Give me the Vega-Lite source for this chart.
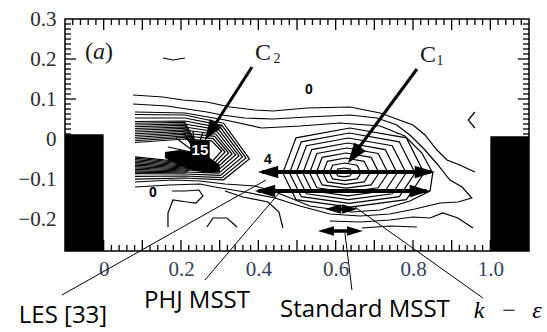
{
  "$schema": "https://vega.github.io/schema/vega-lite/v6.json",
  "width": 464,
  "height": 232,
  "autosize": {"type": "none"},
  "padding": {"left": 65, "top": 19, "right": 18, "bottom": 81},
  "background": "white",
  "config": {
    "view": {"stroke": "black", "strokeWidth": 1.5},
    "axis": {"title": null, "domain": false, "grid": false}
  },
  "resolve": {"axis": {"x": "independent", "y": "independent"}},
  "datasets": {
    "xt": [
      {"v":-0.08,"k":"minor"},{"v":-0.06,"k":"minor"},{"v":-0.04,"k":"minor"},{"v":-0.02,"k":"minor"},{"v":0.02,"k":"minor"},{"v":0.04,"k":"minor"},{"v":0.06,"k":"minor"},{"v":0.08,"k":"minor"},{"v":0.12,"k":"minor"},{"v":0.14,"k":"minor"},{"v":0.16,"k":"minor"},{"v":0.18,"k":"minor"},{"v":0.22,"k":"minor"},{"v":0.24,"k":"minor"},{"v":0.26,"k":"minor"},{"v":0.28,"k":"minor"},{"v":0.32,"k":"minor"},{"v":0.34,"k":"minor"},{"v":0.36,"k":"minor"},{"v":0.38,"k":"minor"},{"v":0.42,"k":"minor"},{"v":0.44,"k":"minor"},{"v":0.46,"k":"minor"},{"v":0.48,"k":"minor"},{"v":0.52,"k":"minor"},{"v":0.54,"k":"minor"},{"v":0.56,"k":"minor"},{"v":0.58,"k":"minor"},{"v":0.62,"k":"minor"},{"v":0.64,"k":"minor"},{"v":0.66,"k":"minor"},{"v":0.68,"k":"minor"},{"v":0.72,"k":"minor"},{"v":0.74,"k":"minor"},{"v":0.76,"k":"minor"},{"v":0.78,"k":"minor"},{"v":0.82,"k":"minor"},{"v":0.84,"k":"minor"},{"v":0.86,"k":"minor"},{"v":0.88,"k":"minor"},{"v":0.92,"k":"minor"},{"v":0.94,"k":"minor"},{"v":0.96,"k":"minor"},{"v":0.98,"k":"minor"},{"v":1.02,"k":"minor"},{"v":1.04,"k":"minor"},{"v":1.06,"k":"minor"},{"v":1.08,"k":"minor"},
      {"v":0,"k":"major"},{"v":0.1,"k":"major"},{"v":0.2,"k":"major"},{"v":0.3,"k":"major"},{"v":0.4,"k":"major"},{"v":0.5,"k":"major"},{"v":0.6,"k":"major"},{"v":0.7,"k":"major"},{"v":0.8,"k":"major"},{"v":0.9,"k":"major"},{"v":1.0,"k":"major"}
    ],
    "yt": [
      {"v":-0.275,"k":"minor"},{"v":-0.2625,"k":"minor"},{"v":-0.25,"k":"minor"},{"v":-0.2375,"k":"minor"},{"v":-0.225,"k":"minor"},{"v":-0.2125,"k":"minor"},{"v":-0.1875,"k":"minor"},{"v":-0.175,"k":"minor"},{"v":-0.1625,"k":"minor"},{"v":-0.15,"k":"minor"},{"v":-0.1375,"k":"minor"},{"v":-0.125,"k":"minor"},{"v":-0.1125,"k":"minor"},{"v":-0.0875,"k":"minor"},{"v":-0.075,"k":"minor"},{"v":-0.0625,"k":"minor"},{"v":-0.05,"k":"minor"},{"v":-0.0375,"k":"minor"},{"v":-0.025,"k":"minor"},{"v":-0.0125,"k":"minor"},{"v":0.0125,"k":"minor"},{"v":0.025,"k":"minor"},{"v":0.0375,"k":"minor"},{"v":0.05,"k":"minor"},{"v":0.0625,"k":"minor"},{"v":0.075,"k":"minor"},{"v":0.0875,"k":"minor"},{"v":0.1125,"k":"minor"},{"v":0.125,"k":"minor"},{"v":0.1375,"k":"minor"},{"v":0.15,"k":"minor"},{"v":0.1625,"k":"minor"},{"v":0.175,"k":"minor"},{"v":0.1875,"k":"minor"},{"v":0.2125,"k":"minor"},{"v":0.225,"k":"minor"},{"v":0.2375,"k":"minor"},{"v":0.25,"k":"minor"},{"v":0.2625,"k":"minor"},{"v":0.275,"k":"minor"},{"v":0.2875,"k":"minor"},
      {"v":-0.2,"k":"major"},{"v":-0.1,"k":"major"},{"v":0,"k":"major"},{"v":0.1,"k":"major"},{"v":0.2,"k":"major"}
    ],
    "blocks": [
      {"x": -0.1, "x2": 0, "y": 0.012, "y2": -0.28},
      {"x": 1.0, "x2": 1.1, "y": 0.007, "y2": -0.28}
    ],
    "core": [
      {"x": 0.1585, "y": -0.0325, "y2": -0.0475},
      {"x": 0.1973, "y": -0.0275, "y2": -0.0675},
      {"x": 0.2361, "y": -0.035, "y2": -0.08},
      {"x": 0.2749, "y": -0.0475, "y2": -0.085},
      {"x": 0.3007, "y": -0.065, "y2": -0.0825}
    ],
    "lines": [
      {"g":"A","o":1,"x":0.076,"y":0.11},{"g":"A","o":2,"x":0.153,"y":0.105},{"g":"A","o":3,"x":0.205,"y":0.0975},{"g":"A","o":4,"x":0.267,"y":0.0925},{"g":"A","o":5,"x":0.327,"y":0.08},{"g":"A","o":6,"x":0.391,"y":0.0725},{"g":"A","o":7,"x":0.438,"y":0.07},{"g":"A","o":8,"x":0.526,"y":0.0775},{"g":"A","o":9,"x":0.637,"y":0.08},{"g":"A","o":10,"x":0.715,"y":0.065},{"g":"A","o":11,"x":0.8,"y":0.035},{"g":"A","o":12,"x":0.831,"y":0.01},{"g":"A","o":13,"x":0.862,"y":-0.0275},{"g":"A","o":14,"x":0.888,"y":-0.0525},{"g":"A","o":15,"x":0.921,"y":-0.065},{"g":"A","o":16,"x":0.96,"y":-0.0825},
      {"g":"M2","o":1,"x":0.076,"y":0.0875},{"g":"M2","o":2,"x":0.164,"y":0.0825},{"g":"M2","o":3,"x":0.215,"y":0.075},{"g":"M2","o":4,"x":0.267,"y":0.0675},{"g":"M2","o":5,"x":0.306,"y":0.06},{"g":"M2","o":6,"x":0.365,"y":0.0525},{"g":"M2","o":7,"x":0.438,"y":0.05},{"g":"M2","o":8,"x":0.526,"y":0.055},{"g":"M2","o":9,"x":0.637,"y":0.06},{"g":"M2","o":10,"x":0.707,"y":0.0525},{"g":"M2","o":11,"x":0.758,"y":0.035},{"g":"M2","o":12,"x":0.792,"y":0.01},{"g":"M2","o":13,"x":0.831,"y":-0.0275},{"g":"M2","o":14,"x":0.8645,"y":-0.065},{"g":"M2","o":15,"x":0.8955,"y":-0.1025},{"g":"M2","o":16,"x":0.927,"y":-0.12},{"g":"M2","o":17,"x":0.952,"y":-0.1475},{"g":"M2","o":18,"x":0.916,"y":-0.1575},{"g":"M2","o":19,"x":0.87,"y":-0.16},{"g":"M2","o":20,"x":0.805,"y":-0.175},{"g":"M2","o":21,"x":0.74,"y":-0.1875},{"g":"M2","o":22,"x":0.663,"y":-0.1925},{"g":"M2","o":23,"x":0.585,"y":-0.1875},{"g":"M2","o":24,"x":0.508,"y":-0.1675},{"g":"M2","o":25,"x":0.443,"y":-0.1475},{"g":"M2","o":26,"x":0.365,"y":-0.1325},{"g":"M2","o":27,"x":0.288,"y":-0.12},{"g":"M2","o":28,"x":0.249,"y":-0.1125},{"g":"M2","o":29,"x":0.171,"y":-0.115},{"g":"M2","o":30,"x":0.081,"y":-0.12},
      {"g":"M1","o":1,"x":0.081,"y":0.0675},{"g":"M1","o":2,"x":0.21,"y":0.065},{"g":"M1","o":3,"x":0.314,"y":0.0475},{"g":"M1","o":4,"x":0.409,"y":0.0275},{"g":"M1","o":5,"x":0.508,"y":0.0325},{"g":"M1","o":6,"x":0.611,"y":0.04},{"g":"M1","o":7,"x":0.715,"y":0.0325},{"g":"M1","o":8,"x":0.779,"y":0.0075},{"g":"M1","o":9,"x":0.823,"y":-0.035},{"g":"M1","o":10,"x":0.851,"y":-0.085},{"g":"M1","o":11,"x":0.844,"y":-0.13},{"g":"M1","o":12,"x":0.792,"y":-0.155},{"g":"M1","o":13,"x":0.715,"y":-0.1775},{"g":"M1","o":14,"x":0.64,"y":-0.1825},{"g":"M1","o":15,"x":0.533,"y":-0.1675},{"g":"M1","o":16,"x":0.477,"y":-0.145},{"g":"M1","o":17,"x":0.43,"y":-0.1275},{"g":"M1","o":18,"x":0.391,"y":-0.1175},{"g":"M1","o":19,"x":0.314,"y":-0.1125},{"g":"M1","o":20,"x":0.249,"y":-0.105},{"g":"M1","o":21,"x":0.177,"y":-0.1025},{"g":"M1","o":22,"x":0.081,"y":-0.1075},
      {"g":"R1","o":1,"x":0.642,"y":-0.085},{"g":"R1","o":2,"x":0.637,"y":-0.0753},{"g":"R1","o":3,"x":0.621,"y":-0.0725},{"g":"R1","o":4,"x":0.6055,"y":-0.0753},{"g":"R1","o":5,"x":0.6017,"y":-0.085},{"g":"R1","o":6,"x":0.6055,"y":-0.0924},{"g":"R1","o":7,"x":0.621,"y":-0.0945},{"g":"R1","o":8,"x":0.637,"y":-0.0924},{"g":"R1","o":9,"x":0.642,"y":-0.085},
      {"g":"R2","o":1,"x":0.6656,"y":-0.085},{"g":"R2","o":2,"x":0.6554,"y":-0.0655},{"g":"R2","o":3,"x":0.623,"y":-0.06},{"g":"R2","o":4,"x":0.592,"y":-0.0655},{"g":"R2","o":5,"x":0.5844,"y":-0.085},{"g":"R2","o":6,"x":0.592,"y":-0.0998},{"g":"R2","o":7,"x":0.623,"y":-0.104},{"g":"R2","o":8,"x":0.6554,"y":-0.0998},{"g":"R2","o":9,"x":0.6656,"y":-0.085},
      {"g":"R3","o":1,"x":0.6889,"y":-0.085},{"g":"R3","o":2,"x":0.6736,"y":-0.0558},{"g":"R3","o":3,"x":0.625,"y":-0.0475},{"g":"R3","o":4,"x":0.5785,"y":-0.0558},{"g":"R3","o":5,"x":0.5671,"y":-0.085},{"g":"R3","o":6,"x":0.5785,"y":-0.1072},{"g":"R3","o":7,"x":0.625,"y":-0.1135},{"g":"R3","o":8,"x":0.6736,"y":-0.1072},{"g":"R3","o":9,"x":0.6889,"y":-0.085},
      {"g":"R4","o":1,"x":0.7122,"y":-0.085},{"g":"R4","o":2,"x":0.6918,"y":-0.046},{"g":"R4","o":3,"x":0.627,"y":-0.035},{"g":"R4","o":4,"x":0.565,"y":-0.046},{"g":"R4","o":5,"x":0.5498,"y":-0.085},{"g":"R4","o":6,"x":0.565,"y":-0.1146},{"g":"R4","o":7,"x":0.627,"y":-0.123},{"g":"R4","o":8,"x":0.6918,"y":-0.1146},{"g":"R4","o":9,"x":0.7122,"y":-0.085},
      {"g":"R5","o":1,"x":0.7355,"y":-0.085},{"g":"R5","o":2,"x":0.71,"y":-0.0363},{"g":"R5","o":3,"x":0.629,"y":-0.0225},{"g":"R5","o":4,"x":0.5515,"y":-0.0363},{"g":"R5","o":5,"x":0.5325,"y":-0.085},{"g":"R5","o":6,"x":0.5515,"y":-0.122},{"g":"R5","o":7,"x":0.629,"y":-0.1325},{"g":"R5","o":8,"x":0.71,"y":-0.122},{"g":"R5","o":9,"x":0.7355,"y":-0.085},
      {"g":"R6","o":1,"x":0.7588,"y":-0.085},{"g":"R6","o":2,"x":0.7282,"y":-0.0265},{"g":"R6","o":3,"x":0.631,"y":-0.01},{"g":"R6","o":4,"x":0.538,"y":-0.0265},{"g":"R6","o":5,"x":0.5152,"y":-0.085},{"g":"R6","o":6,"x":0.538,"y":-0.1294},{"g":"R6","o":7,"x":0.631,"y":-0.142},{"g":"R6","o":8,"x":0.7282,"y":-0.1294},{"g":"R6","o":9,"x":0.7588,"y":-0.085},
      {"g":"R7","o":1,"x":0.7821,"y":-0.085},{"g":"R7","o":2,"x":0.7464,"y":-0.0168},{"g":"R7","o":3,"x":0.633,"y":0.0025},{"g":"R7","o":4,"x":0.5245,"y":-0.0168},{"g":"R7","o":5,"x":0.4979,"y":-0.085},{"g":"R7","o":6,"x":0.5245,"y":-0.1368},{"g":"R7","o":7,"x":0.633,"y":-0.1515},{"g":"R7","o":8,"x":0.7464,"y":-0.1368},{"g":"R7","o":9,"x":0.7821,"y":-0.085},
      {"g":"R8","o":1,"x":0.8054,"y":-0.085},{"g":"R8","o":2,"x":0.7646,"y":-0.007},{"g":"R8","o":3,"x":0.635,"y":0.015},{"g":"R8","o":4,"x":0.511,"y":-0.007},{"g":"R8","o":5,"x":0.4806,"y":-0.085},{"g":"R8","o":6,"x":0.511,"y":-0.1442},{"g":"R8","o":7,"x":0.635,"y":-0.161},{"g":"R8","o":8,"x":0.7646,"y":-0.1442},{"g":"R8","o":9,"x":0.8054,"y":-0.085},
      {"g":"R9","o":1,"x":0.8287,"y":-0.085},{"g":"R9","o":2,"x":0.7828,"y":0.0028},{"g":"R9","o":3,"x":0.637,"y":0.0275},{"g":"R9","o":4,"x":0.4975,"y":0.0028},{"g":"R9","o":5,"x":0.4633,"y":-0.085},{"g":"R9","o":6,"x":0.4975,"y":-0.1516},{"g":"R9","o":7,"x":0.637,"y":-0.1705},{"g":"R9","o":8,"x":0.7828,"y":-0.1516},{"g":"R9","o":9,"x":0.8287,"y":-0.085},
      {"g":"K1","o":1,"x":0.081,"y":-0.0088},{"g":"K1","o":2,"x":0.21,"y":0.0},{"g":"K1","o":3,"x":0.279,"y":-0.0045},{"g":"K1","o":4,"x":0.305,"y":-0.03},{"g":"K1","o":5,"x":0.279,"y":-0.058},{"g":"K1","o":6,"x":0.21,"y":-0.0575},{"g":"K1","o":7,"x":0.081,"y":-0.0445},
      {"g":"K2","o":1,"x":0.081,"y":0.0},{"g":"K2","o":2,"x":0.21,"y":0.0075},{"g":"K2","o":3,"x":0.283,"y":0.001},{"g":"K2","o":4,"x":0.314,"y":-0.0325},{"g":"K2","o":5,"x":0.283,"y":-0.0635},{"g":"K2","o":6,"x":0.21,"y":-0.0625},{"g":"K2","o":7,"x":0.081,"y":-0.0515},
      {"g":"K3","o":1,"x":0.081,"y":0.0088},{"g":"K3","o":2,"x":0.21,"y":0.015},{"g":"K3","o":3,"x":0.287,"y":0.0065},{"g":"K3","o":4,"x":0.323,"y":-0.035},{"g":"K3","o":5,"x":0.287,"y":-0.069},{"g":"K3","o":6,"x":0.21,"y":-0.0675},{"g":"K3","o":7,"x":0.081,"y":-0.0585},
      {"g":"K4","o":1,"x":0.081,"y":0.0175},{"g":"K4","o":2,"x":0.21,"y":0.0225},{"g":"K4","o":3,"x":0.29,"y":0.012},{"g":"K4","o":4,"x":0.332,"y":-0.0375},{"g":"K4","o":5,"x":0.29,"y":-0.0745},{"g":"K4","o":6,"x":0.21,"y":-0.0725},{"g":"K4","o":7,"x":0.081,"y":-0.0655},
      {"g":"K5","o":1,"x":0.081,"y":0.0263},{"g":"K5","o":2,"x":0.21,"y":0.03},{"g":"K5","o":3,"x":0.294,"y":0.0175},{"g":"K5","o":4,"x":0.341,"y":-0.04},{"g":"K5","o":5,"x":0.294,"y":-0.08},{"g":"K5","o":6,"x":0.21,"y":-0.0775},{"g":"K5","o":7,"x":0.081,"y":-0.0725},
      {"g":"K6","o":1,"x":0.081,"y":0.035},{"g":"K6","o":2,"x":0.21,"y":0.0375},{"g":"K6","o":3,"x":0.298,"y":0.023},{"g":"K6","o":4,"x":0.35,"y":-0.0425},{"g":"K6","o":5,"x":0.298,"y":-0.0855},{"g":"K6","o":6,"x":0.21,"y":-0.0825},{"g":"K6","o":7,"x":0.081,"y":-0.0795},
      {"g":"K7","o":1,"x":0.081,"y":0.0438},{"g":"K7","o":2,"x":0.21,"y":0.045},{"g":"K7","o":3,"x":0.302,"y":0.0285},{"g":"K7","o":4,"x":0.359,"y":-0.045},{"g":"K7","o":5,"x":0.302,"y":-0.091},{"g":"K7","o":6,"x":0.21,"y":-0.0875},{"g":"K7","o":7,"x":0.081,"y":-0.0865},
      {"g":"K8","o":1,"x":0.081,"y":0.0525},{"g":"K8","o":2,"x":0.21,"y":0.0525},{"g":"K8","o":3,"x":0.306,"y":0.034},{"g":"K8","o":4,"x":0.368,"y":-0.0475},{"g":"K8","o":5,"x":0.306,"y":-0.0965},{"g":"K8","o":6,"x":0.21,"y":-0.0925},{"g":"K8","o":7,"x":0.081,"y":-0.0935},
      {"g":"K9","o":1,"x":0.081,"y":0.0613},{"g":"K9","o":2,"x":0.21,"y":0.06},{"g":"K9","o":3,"x":0.31,"y":0.0395},{"g":"K9","o":4,"x":0.377,"y":-0.05},{"g":"K9","o":5,"x":0.31,"y":-0.102},{"g":"K9","o":6,"x":0.21,"y":-0.0975},{"g":"K9","o":7,"x":0.081,"y":-0.1005},
      {"g":"U1","o":1,"x":0.081,"y":-0.0044},{"g":"U1","o":2,"x":0.21,"y":0.0038},{"g":"U1","o":3,"x":0.25,"y":-0.03},
      {"g":"U2","o":1,"x":0.081,"y":0.0044},{"g":"U2","o":2,"x":0.21,"y":0.0113},{"g":"U2","o":3,"x":0.25,"y":-0.03},
      {"g":"U3","o":1,"x":0.081,"y":0.0131},{"g":"U3","o":2,"x":0.21,"y":0.0188},{"g":"U3","o":3,"x":0.25,"y":-0.03},
      {"g":"U4","o":1,"x":0.081,"y":0.0219},{"g":"U4","o":2,"x":0.21,"y":0.0263},{"g":"U4","o":3,"x":0.25,"y":-0.03},
      {"g":"U5","o":1,"x":0.081,"y":0.0306},{"g":"U5","o":2,"x":0.21,"y":0.0338},{"g":"U5","o":3,"x":0.25,"y":-0.03},
      {"g":"U6","o":1,"x":0.081,"y":0.0394},{"g":"U6","o":2,"x":0.21,"y":0.0413},{"g":"U6","o":3,"x":0.25,"y":-0.03},
      {"g":"L1","o":1,"x":0.081,"y":-0.048},{"g":"L1","o":2,"x":0.21,"y":-0.06},{"g":"L1","o":3,"x":0.26,"y":-0.05},
      {"g":"L2","o":1,"x":0.081,"y":-0.055},{"g":"L2","o":2,"x":0.21,"y":-0.065},{"g":"L2","o":3,"x":0.26,"y":-0.05},
      {"g":"L3","o":1,"x":0.081,"y":-0.062},{"g":"L3","o":2,"x":0.21,"y":-0.07},{"g":"L3","o":3,"x":0.26,"y":-0.05},
      {"g":"L4","o":1,"x":0.081,"y":-0.069},{"g":"L4","o":2,"x":0.21,"y":-0.075},{"g":"L4","o":3,"x":0.26,"y":-0.05},
      {"g":"L5","o":1,"x":0.081,"y":-0.076},{"g":"L5","o":2,"x":0.21,"y":-0.08},{"g":"L5","o":3,"x":0.26,"y":-0.05},
      {"g":"L6","o":1,"x":0.081,"y":-0.083},{"g":"L6","o":2,"x":0.21,"y":-0.085},{"g":"L6","o":3,"x":0.26,"y":-0.05},
      {"g":"F1","o":1,"x":0.2387,"y":-0.035},{"g":"F1","o":2,"x":0.187,"y":0.0025},
      {"g":"F2","o":1,"x":0.2387,"y":-0.035},{"g":"F2","o":2,"x":0.2077,"y":0.015},
      {"g":"F3","o":1,"x":0.2387,"y":-0.035},{"g":"F3","o":2,"x":0.2309,"y":0.02},
      {"g":"F4","o":1,"x":0.2387,"y":-0.035},{"g":"F4","o":2,"x":0.2568,"y":0.0175},
      {"g":"F5","o":1,"x":0.2387,"y":-0.035},{"g":"F5","o":2,"x":0.1663,"y":-0.02},
      {"g":"F6","o":1,"x":0.2387,"y":-0.035},{"g":"F6","o":2,"x":0.1714,"y":-0.0525},
      {"g":"Z","o":1,"x":0.1766,"y":-0.13},{"g":"Z","o":2,"x":0.2102,"y":-0.13},{"g":"Z","o":3,"x":0.2464,"y":-0.1275},{"g":"Z","o":4,"x":0.2568,"y":-0.1425},{"g":"Z","o":5,"x":0.2387,"y":-0.16},{"g":"Z","o":6,"x":0.2154,"y":-0.1575},{"g":"Z","o":7,"x":0.1792,"y":-0.1525},{"g":"Z","o":8,"x":0.1663,"y":-0.185},{"g":"Z","o":9,"x":0.1663,"y":-0.22},
      {"g":"D","o":1,"x":0.3137,"y":-0.13},{"g":"D","o":2,"x":0.3602,"y":-0.145},{"g":"D","o":3,"x":0.4249,"y":-0.1575},{"g":"D","o":4,"x":0.4533,"y":-0.1825},{"g":"D","o":5,"x":0.4637,"y":-0.2225},
      {"g":"FB","o":1,"x":0.585,"y":-0.205},{"g":"FB","o":2,"x":0.663,"y":-0.2075},{"g":"FB","o":3,"x":0.74,"y":-0.2025},{"g":"FB","o":4,"x":0.8,"y":-0.195},{"g":"FB","o":5,"x":0.844,"y":-0.1975},{"g":"FB","o":6,"x":0.877,"y":-0.185},{"g":"FB","o":7,"x":0.916,"y":-0.1975},{"g":"FB","o":8,"x":0.955,"y":-0.2225},
      {"g":"G","o":1,"x":0.668,"y":-0.2225},{"g":"G","o":2,"x":0.74,"y":-0.2175},{"g":"G","o":3,"x":0.81,"y":-0.22},
      {"g":"arc","o":1,"x":0.1533,"y":0.2025},{"g":"arc","o":2,"x":0.179,"y":0.1975},{"g":"arc","o":3,"x":0.2102,"y":0.2025},
      {"g":"chev","o":1,"x":0.9602,"y":0.0675},{"g":"chev","o":2,"x":0.9429,"y":0.0475},{"g":"chev","o":3,"x":0.9602,"y":0.0275},
      {"g":"hat","o":1,"x":0.2671,"y":-0.22},{"g":"hat","o":2,"x":0.2827,"y":-0.1975},{"g":"hat","o":3,"x":0.3189,"y":-0.1975},{"g":"hat","o":4,"x":0.3447,"y":-0.22}
    ],
    "shafts": [
      {"x": 0.41, "x2": 0.845, "y": -0.0825, "y2": -0.0825, "kind": "big"},
      {"x": 0.40, "x2": 0.835, "y": -0.13, "y2": -0.13, "kind": "big"},
      {"x": 0.59, "x2": 0.64, "y": -0.175, "y2": -0.175, "kind": "small"},
      {"x": 0.575, "x2": 0.65, "y": -0.23, "y2": -0.23, "kind": "small"},
      {"x": 0.3835, "x2": 0.2788, "y": 0.18, "y2": 0.0225, "kind": "diag"},
      {"x": 0.8102, "x2": 0.6498, "y": 0.175, "y2": -0.035, "kind": "diag"}
    ],
    "heads": [
      {"x": 0.4249, "y": -0.0825, "dir": "L", "kind": "big"},
      {"x": 0.8309, "y": -0.0825, "dir": "R", "kind": "big"},
      {"x": 0.4171, "y": -0.13, "dir": "L", "kind": "big"},
      {"x": 0.818, "y": -0.13, "dir": "R", "kind": "big"},
      {"x": 0.5929, "y": -0.175, "dir": "L", "kind": "small"},
      {"x": 0.6369, "y": -0.175, "dir": "R", "kind": "small"},
      {"x": 0.5749, "y": -0.23, "dir": "L", "kind": "small"},
      {"x": 0.6498, "y": -0.23, "dir": "R", "kind": "small"}
    ],
    "diagheads": [
      {"name": "C2", "x": 0.2759, "y": 0.0185},
      {"name": "C1", "x": 0.6473, "y": -0.04}
    ],
    "leaders": [
      {"x": -0.1078, "y": -0.39, "x2": 0.4197, "y2": -0.1025},
      {"x": 0.262, "y": -0.3525, "x2": 0.456, "y2": -0.1325},
      {"x": 0.6421, "y": -0.3775, "x2": 0.624, "y2": -0.235},
      {"x": 0.9809, "y": -0.3975, "x2": 0.6498, "y2": -0.17}
    ],
    "sansLabels": [
      {"t": "LES [33]", "x": -0.1052, "y": -0.46},
      {"t": "PHJ MSST", "x": 0.2413, "y": -0.4225},
      {"t": "Standard MSST", "x": 0.6757, "y": -0.445}
    ],
    "mathItalic": [
      {"t": "k", "x": 0.9707, "y": -0.4475},
      {"t": "ε", "x": 1.1207, "y": -0.4475}
    ],
    "mathUpright": [
      {"t": "−", "x": 1.0483, "y": -0.4475}
    ],
    "serifBig": [
      {"t": "C", "x": 0.412, "y": 0.215},
      {"t": "C", "x": 0.8387, "y": 0.2088},
      {"t": "(", "x": -0.0379, "y": 0.2175},
      {"t": ")", "x": 0.0138, "y": 0.2175}
    ],
    "serifItalic": [
      {"t": "a", "x": -0.0121, "y": 0.2175}
    ],
    "serifSub": [
      {"t": "2", "x": 0.4482, "y": 0.2},
      {"t": "1", "x": 0.8697, "y": 0.1938}
    ],
    "boldNums": [
      {"t": "0", "x": 0.531, "y": 0.1225},
      {"t": "0", "x": 0.1275, "y": -0.135},
      {"t": "4", "x": 0.4249, "y": -0.0525}
    ],
    "whiteNums": [
      {"t": "15", "x": 0.249, "y": -0.0275}
    ]
  },
  "layer": [
    {
      "data": {"name": "blocks"},
      "mark": {"type": "rect", "color": "black"},
      "encoding": {
        "x": {"field": "x", "type": "quantitative", "scale": {"domain": [-0.1, 1.1], "nice": false, "zero": false},
              "axis": {"orient": "bottom", "values": [0, 0.2, 0.4, 0.6, 0.8, 1], "labelExpr": "datum.value == 0 ? '0' : format(datum.value, '.1f')", "ticks": false, "labelFont": "Liberation Serif", "labelFontSize": 21, "labelColor": "#34405c", "labelPadding": 7}},
        "x2": {"field": "x2"},
        "y": {"field": "y", "type": "quantitative", "scale": {"domain": [-0.28, 0.3], "nice": false, "zero": false},
              "axis": {"orient": "left", "values": [0.3, 0.2, 0.1, 0, -0.1, -0.2], "labelExpr": "datum.value == 0 ? '0' : format(datum.value, '.1f')", "ticks": false, "labelFont": "Liberation Serif", "labelFontSize": 21, "labelColor": "#2a2a2a", "labelPadding": 9}},
        "y2": {"field": "y2"}
      }
    },
    {
      "data": {"name": "lines"},
      "mark": {"type": "line", "color": "black", "strokeWidth": 1.2},
      "encoding": {
        "x": {"field": "x", "type": "quantitative", "scale": {"domain": [-0.1, 1.1], "nice": false, "zero": false}, "axis": null},
        "y": {"field": "y", "type": "quantitative", "scale": {"domain": [-0.28, 0.3], "nice": false, "zero": false}, "axis": null},
        "detail": {"field": "g", "type": "nominal"},
        "order": {"field": "o", "type": "quantitative"}
      }
    },
    {
      "data": {"name": "core"},
      "mark": {"type": "area", "color": "black", "opacity": 1},
      "encoding": {
        "x": {"field": "x", "type": "quantitative", "scale": {"domain": [-0.1, 1.1], "nice": false, "zero": false}, "axis": null},
        "y": {"field": "y", "type": "quantitative", "scale": {"domain": [-0.28, 0.3], "nice": false, "zero": false}, "axis": null},
        "y2": {"field": "y2"}
      }
    },
    {
      "data": {"name": "shafts"},
      "mark": {"type": "rule", "color": "black"},
      "encoding": {
        "x": {"field": "x", "type": "quantitative", "scale": {"domain": [-0.1, 1.1], "nice": false, "zero": false}, "axis": null},
        "x2": {"field": "x2"},
        "y": {"field": "y", "type": "quantitative", "scale": {"domain": [-0.28, 0.3], "nice": false, "zero": false}, "axis": null},
        "y2": {"field": "y2"},
        "strokeWidth": {"field": "kind", "type": "nominal", "scale": {"domain": ["big", "small", "diag"], "range": [4, 3, 2.5]}, "legend": null}
      }
    },
    {
      "data": {"name": "heads"},
      "mark": {"type": "point", "filled": true, "color": "black", "opacity": 1, "strokeWidth": 0},
      "encoding": {
        "x": {"field": "x", "type": "quantitative", "scale": {"domain": [-0.1, 1.1], "nice": false, "zero": false}, "axis": null},
        "y": {"field": "y", "type": "quantitative", "scale": {"domain": [-0.28, 0.3], "nice": false, "zero": false}, "axis": null},
        "shape": {"field": "dir", "type": "nominal", "scale": {"domain": ["L", "R"], "range": ["M-1,0L1,-0.6L1,0.6Z", "M1,0L-1,-0.6L-1,0.6Z"]}, "legend": null},
        "size": {"field": "kind", "type": "nominal", "scale": {"domain": ["big", "small"], "range": [420, 256]}, "legend": null}
      }
    },
    {
      "data": {"name": "diagheads"},
      "transform": [{"filter": "datum.name == 'C2'"}],
      "mark": {"type": "point", "filled": true, "color": "black", "opacity": 1, "strokeWidth": 0, "shape": "M0,-1L0.7,1L-0.7,1Z", "size": 420, "angle": 213},
      "encoding": {
        "x": {"field": "x", "type": "quantitative", "scale": {"domain": [-0.1, 1.1], "nice": false, "zero": false}, "axis": null},
        "y": {"field": "y", "type": "quantitative", "scale": {"domain": [-0.28, 0.3], "nice": false, "zero": false}, "axis": null}
      }
    },
    {
      "data": {"name": "diagheads"},
      "transform": [{"filter": "datum.name == 'C1'"}],
      "mark": {"type": "point", "filled": true, "color": "black", "opacity": 1, "strokeWidth": 0, "shape": "M0,-1L0.7,1L-0.7,1Z", "size": 420, "angle": 216},
      "encoding": {
        "x": {"field": "x", "type": "quantitative", "scale": {"domain": [-0.1, 1.1], "nice": false, "zero": false}, "axis": null},
        "y": {"field": "y", "type": "quantitative", "scale": {"domain": [-0.28, 0.3], "nice": false, "zero": false}, "axis": null}
      }
    },
    {
      "data": {"name": "leaders"},
      "mark": {"type": "rule", "color": "black", "strokeWidth": 1},
      "encoding": {
        "x": {"field": "x", "type": "quantitative", "scale": {"domain": [-0.1, 1.1], "nice": false, "zero": false}, "axis": null},
        "x2": {"field": "x2"},
        "y": {"field": "y", "type": "quantitative", "scale": {"domain": [-0.28, 0.3], "nice": false, "zero": false}, "axis": null},
        "y2": {"field": "y2"}
      }
    },
    {
      "data": {"name": "whiteNums"},
      "mark": {"type": "point", "shape": "square", "filled": true, "color": "black", "opacity": 1, "size": 380},
      "encoding": {
        "x": {"field": "x", "type": "quantitative", "scale": {"domain": [-0.1, 1.1], "nice": false, "zero": false}, "axis": null},
        "y": {"field": "y", "type": "quantitative", "scale": {"domain": [-0.28, 0.3], "nice": false, "zero": false}, "axis": null}
      }
    },
    {
      "data": {"name": "whiteNums"},
      "mark": {"type": "text", "font": "Liberation Sans", "fontWeight": "bold", "fontSize": 15, "color": "white", "align": "center", "baseline": "middle"},
      "encoding": {
        "x": {"field": "x", "type": "quantitative", "scale": {"domain": [-0.1, 1.1], "nice": false, "zero": false}, "axis": null},
        "y": {"field": "y", "type": "quantitative", "scale": {"domain": [-0.28, 0.3], "nice": false, "zero": false}, "axis": null},
        "text": {"field": "t"}
      }
    },
    {
      "data": {"name": "sansLabels"},
      "mark": {"type": "text", "font": "Open Sans", "fontSize": 24, "color": "black", "align": "center", "baseline": "alphabetic"},
      "encoding": {
        "x": {"field": "x", "type": "quantitative", "scale": {"domain": [-0.1, 1.1], "nice": false, "zero": false}, "axis": null},
        "y": {"field": "y", "type": "quantitative", "scale": {"domain": [-0.28, 0.3], "nice": false, "zero": false}, "axis": null},
        "text": {"field": "t"}
      }
    },
    {
      "data": {"name": "mathItalic"},
      "mark": {"type": "text", "font": "Liberation Serif", "fontStyle": "italic", "fontSize": 24, "color": "black", "align": "center", "baseline": "alphabetic"},
      "encoding": {
        "x": {"field": "x", "type": "quantitative", "scale": {"domain": [-0.1, 1.1], "nice": false, "zero": false}, "axis": null},
        "y": {"field": "y", "type": "quantitative", "scale": {"domain": [-0.28, 0.3], "nice": false, "zero": false}, "axis": null},
        "text": {"field": "t"}
      }
    },
    {
      "data": {"name": "mathUpright"},
      "mark": {"type": "text", "font": "Liberation Serif", "fontSize": 24, "color": "black", "align": "center", "baseline": "alphabetic"},
      "encoding": {
        "x": {"field": "x", "type": "quantitative", "scale": {"domain": [-0.1, 1.1], "nice": false, "zero": false}, "axis": null},
        "y": {"field": "y", "type": "quantitative", "scale": {"domain": [-0.28, 0.3], "nice": false, "zero": false}, "axis": null},
        "text": {"field": "t"}
      }
    },
    {
      "data": {"name": "serifBig"},
      "mark": {"type": "text", "font": "Liberation Serif", "fontSize": 24, "color": "#1a1a1a", "align": "center", "baseline": "middle"},
      "encoding": {
        "x": {"field": "x", "type": "quantitative", "scale": {"domain": [-0.1, 1.1], "nice": false, "zero": false}, "axis": null},
        "y": {"field": "y", "type": "quantitative", "scale": {"domain": [-0.28, 0.3], "nice": false, "zero": false}, "axis": null},
        "text": {"field": "t"}
      }
    },
    {
      "data": {"name": "serifItalic"},
      "mark": {"type": "text", "font": "Liberation Serif", "fontStyle": "italic", "fontSize": 24, "color": "#1a1a1a", "align": "center", "baseline": "middle"},
      "encoding": {
        "x": {"field": "x", "type": "quantitative", "scale": {"domain": [-0.1, 1.1], "nice": false, "zero": false}, "axis": null},
        "y": {"field": "y", "type": "quantitative", "scale": {"domain": [-0.28, 0.3], "nice": false, "zero": false}, "axis": null},
        "text": {"field": "t"}
      }
    },
    {
      "data": {"name": "serifSub"},
      "mark": {"type": "text", "font": "Liberation Serif", "fontSize": 14, "color": "#1a1a1a", "align": "center", "baseline": "middle"},
      "encoding": {
        "x": {"field": "x", "type": "quantitative", "scale": {"domain": [-0.1, 1.1], "nice": false, "zero": false}, "axis": null},
        "y": {"field": "y", "type": "quantitative", "scale": {"domain": [-0.28, 0.3], "nice": false, "zero": false}, "axis": null},
        "text": {"field": "t"}
      }
    },
    {
      "data": {"name": "boldNums"},
      "mark": {"type": "text", "font": "Liberation Sans", "fontWeight": "bold", "fontSize": 14, "color": "black", "align": "center", "baseline": "middle"},
      "encoding": {
        "x": {"field": "x", "type": "quantitative", "scale": {"domain": [-0.1, 1.1], "nice": false, "zero": false}, "axis": null},
        "y": {"field": "y", "type": "quantitative", "scale": {"domain": [-0.28, 0.3], "nice": false, "zero": false}, "axis": null},
        "text": {"field": "t"}
      }
    },
    {
      "data": {"name": "xt"}, "transform": [{"filter": "datum.k == 'minor'"}],
      "mark": {"type": "tick", "color": "black", "opacity": 1, "thickness": 1.3, "size": 6, "orient": "vertical"},
      "encoding": {
        "x": {"field": "v", "type": "quantitative", "scale": {"domain": [-0.1, 1.1], "nice": false, "zero": false}, "axis": null},
        "y": {"datum": -0.2725, "type": "quantitative", "scale": {"domain": [-0.28, 0.3], "nice": false, "zero": false}, "axis": null}
      }
    },
    {
      "data": {"name": "xt"}, "transform": [{"filter": "datum.k == 'major'"}],
      "mark": {"type": "tick", "color": "black", "opacity": 1, "thickness": 1.3, "size": 11, "orient": "vertical"},
      "encoding": {
        "x": {"field": "v", "type": "quantitative", "scale": {"domain": [-0.1, 1.1], "nice": false, "zero": false}, "axis": null},
        "y": {"datum": -0.2662, "type": "quantitative", "scale": {"domain": [-0.28, 0.3], "nice": false, "zero": false}, "axis": null}
      }
    },
    {
      "data": {"name": "xt"}, "transform": [{"filter": "datum.k == 'minor'"}],
      "mark": {"type": "tick", "color": "black", "opacity": 1, "thickness": 1.3, "size": 6, "orient": "vertical"},
      "encoding": {
        "x": {"field": "v", "type": "quantitative", "scale": {"domain": [-0.1, 1.1], "nice": false, "zero": false}, "axis": null},
        "y": {"datum": 0.2925, "type": "quantitative", "scale": {"domain": [-0.28, 0.3], "nice": false, "zero": false}, "axis": null}
      }
    },
    {
      "data": {"name": "xt"}, "transform": [{"filter": "datum.k == 'major'"}],
      "mark": {"type": "tick", "color": "black", "opacity": 1, "thickness": 1.3, "size": 11, "orient": "vertical"},
      "encoding": {
        "x": {"field": "v", "type": "quantitative", "scale": {"domain": [-0.1, 1.1], "nice": false, "zero": false}, "axis": null},
        "y": {"datum": 0.2862, "type": "quantitative", "scale": {"domain": [-0.28, 0.3], "nice": false, "zero": false}, "axis": null}
      }
    },
    {
      "data": {"name": "yt"}, "transform": [{"filter": "datum.k == 'minor'"}],
      "mark": {"type": "tick", "color": "black", "opacity": 1, "thickness": 1.3, "size": 6, "orient": "horizontal"},
      "encoding": {
        "y": {"field": "v", "type": "quantitative", "scale": {"domain": [-0.28, 0.3], "nice": false, "zero": false}, "axis": null},
        "x": {"datum": -0.0922, "type": "quantitative", "scale": {"domain": [-0.1, 1.1], "nice": false, "zero": false}, "axis": null}
      }
    },
    {
      "data": {"name": "yt"}, "transform": [{"filter": "datum.k == 'major'"}],
      "mark": {"type": "tick", "color": "black", "opacity": 1, "thickness": 1.3, "size": 11, "orient": "horizontal"},
      "encoding": {
        "y": {"field": "v", "type": "quantitative", "scale": {"domain": [-0.28, 0.3], "nice": false, "zero": false}, "axis": null},
        "x": {"datum": -0.0858, "type": "quantitative", "scale": {"domain": [-0.1, 1.1], "nice": false, "zero": false}, "axis": null}
      }
    },
    {
      "data": {"name": "yt"}, "transform": [{"filter": "datum.k == 'minor'"}],
      "mark": {"type": "tick", "color": "black", "opacity": 1, "thickness": 1.3, "size": 6, "orient": "horizontal"},
      "encoding": {
        "y": {"field": "v", "type": "quantitative", "scale": {"domain": [-0.28, 0.3], "nice": false, "zero": false}, "axis": null},
        "x": {"datum": 1.0922, "type": "quantitative", "scale": {"domain": [-0.1, 1.1], "nice": false, "zero": false}, "axis": null}
      }
    },
    {
      "data": {"name": "yt"}, "transform": [{"filter": "datum.k == 'major'"}],
      "mark": {"type": "tick", "color": "black", "opacity": 1, "thickness": 1.3, "size": 11, "orient": "horizontal"},
      "encoding": {
        "y": {"field": "v", "type": "quantitative", "scale": {"domain": [-0.28, 0.3], "nice": false, "zero": false}, "axis": null},
        "x": {"datum": 1.0858, "type": "quantitative", "scale": {"domain": [-0.1, 1.1], "nice": false, "zero": false}, "axis": null}
      }
    }
  ]
}
